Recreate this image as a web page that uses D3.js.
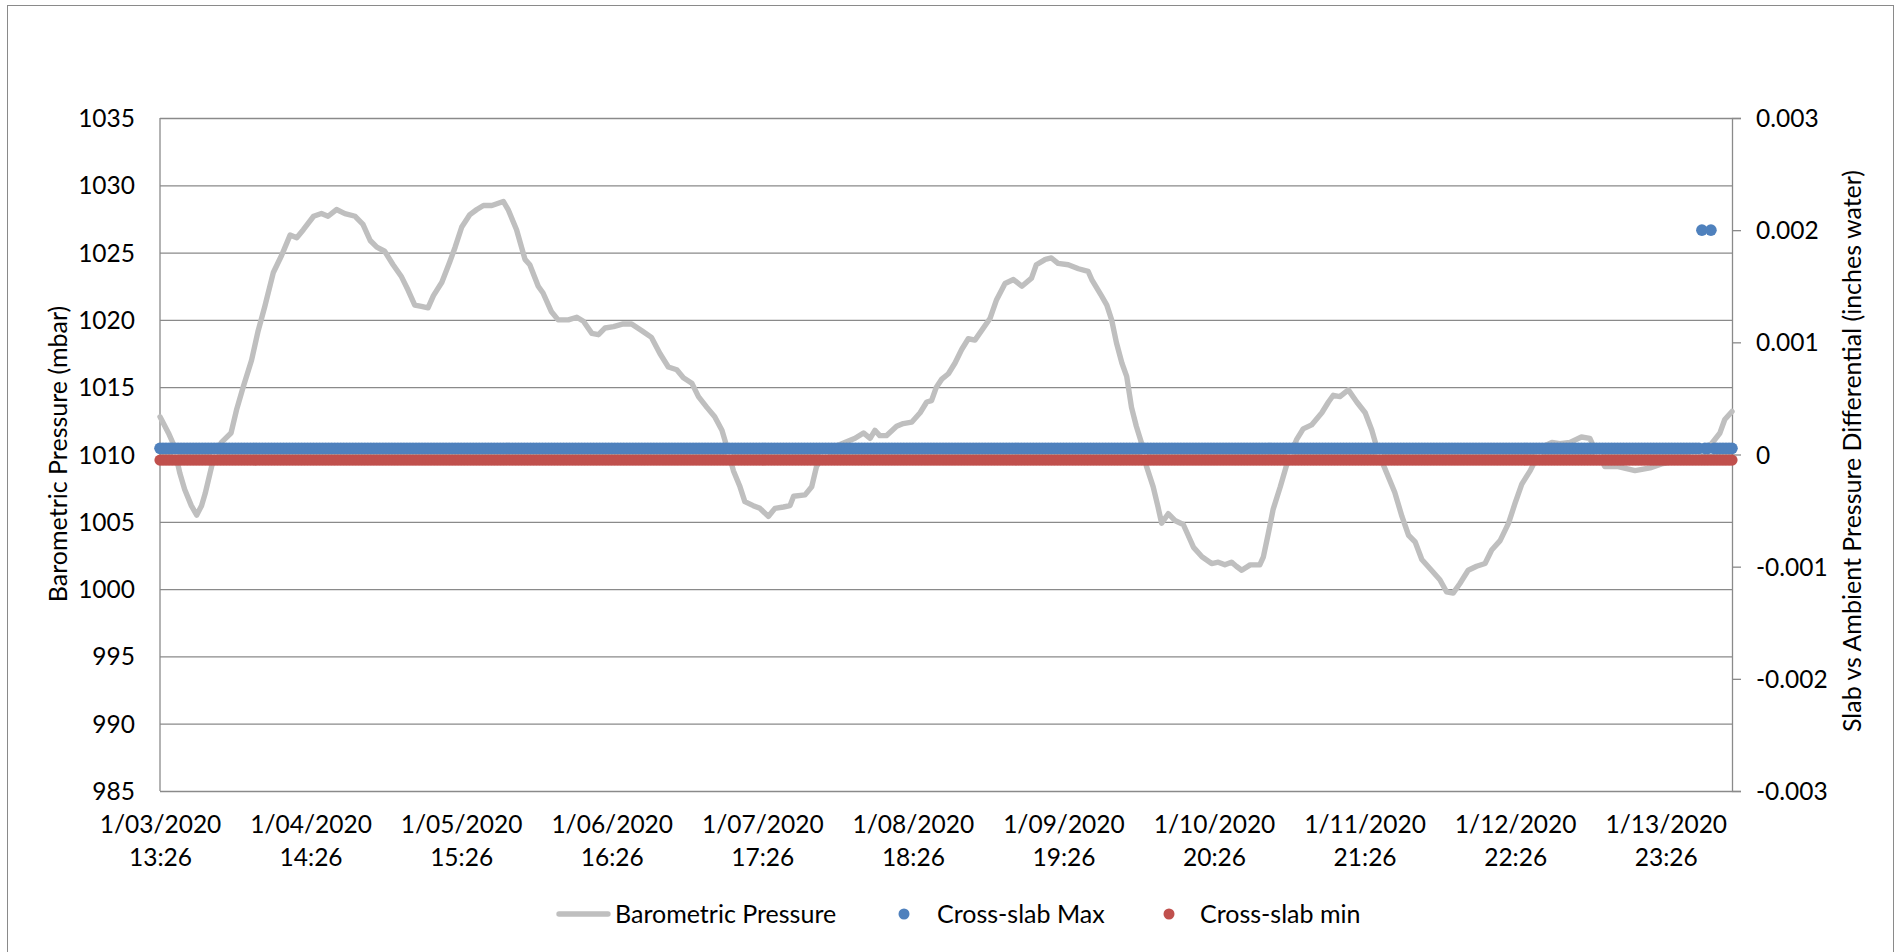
<!DOCTYPE html>
<html>
<head>
<meta charset="utf-8">
<script src="https://cdn.jsdelivr.net/npm/d3@7"></script>
<style>
  body { margin: 0; background: #fff; }
  svg { display: block; }
  text { font-family: Lato, "Open Sans", sans-serif; fill: #000; }
</style>
</head>
<body>
<svg id="chart" width="1900" height="952"></svg>
<script>
// ---------- DATA ----------
const startTime = new Date(2020, 0, 3, 13, 26);   // 1/03/2020 13:26
const endHour = 261;                              // last sample, hours after start
const tickHours = [0, 25, 50, 75, 100, 125, 150, 175, 200, 225, 250];

const leftTicks = [985, 990, 995, 1000, 1005, 1010, 1015, 1020, 1025, 1030, 1035];
const rightTicks = [-0.003, -0.002, -0.001, 0, 0.001, 0.002, 0.003];

// Barometric pressure (mbar), hours after start
const pressureHours = [
  0, 1.4, 2.2, 3.3, 4.1, 5.2, 6.1, 6.9, 7.5, 8.3, 9.1, 10.2, 11.8, 12.7, 13.8, 15.2, 16.3, 17.4, 18.8, 20.2,
  21.6, 22.7, 23.8, 25.5, 26.8, 27.9, 29.3, 30.7, 32.4, 33.7, 34.9, 36.0, 37.3, 38.7, 40.1, 41.2, 42.3, 43.4, 44.5, 45.4,
  46.8, 48.1, 49.0, 50.1, 51.4, 52.6, 53.7, 55.1, 57.0, 57.8, 59.2, 60.6, 61.4, 62.8, 63.6, 65.0, 66.1, 67.8, 69.2, 70.3,
  71.7, 72.8, 73.9, 75.3, 76.9, 78.3, 80.0, 81.6, 83.0, 84.4, 85.8, 86.9, 88.3, 89.4, 90.8, 92.1, 93.3, 94.1, 95.2, 96.3,
  97.1, 98.5, 99.6, 101.0, 102.1, 103.5, 104.6, 105.2, 107.1, 108.2, 109.0, 110.4, 112.1, 113.7, 115.4, 116.8, 117.9, 118.7, 119.5, 120.6,
  122.3, 123.4, 124.8, 126.2, 127.3, 128.1, 128.9, 129.8, 130.9, 132.0, 133.1, 134.2, 135.3, 136.4, 137.8, 138.9, 140.3, 141.7, 143.1, 144.7,
  145.5, 147.0, 148.0, 149.1, 150.8, 152.5, 154.1, 154.7, 156.3, 157.2, 158.0, 158.8, 159.7, 160.5, 161.3, 162.1, 163.0, 163.8, 164.9, 165.7,
  166.3, 167.4, 168.5, 169.9, 170.7, 171.6, 173.0, 174.6, 175.7, 176.8, 177.9, 178.7, 179.6, 181.0, 182.6, 183.2, 184.0, 184.8, 186.0, 187.3,
  188.7, 189.8, 191.2, 192.9, 194.0, 194.8, 195.9, 197.3, 198.7, 200.1, 201.2, 202.3, 203.7, 205.0, 206.2, 207.3, 208.4, 209.5, 211.1, 212.5,
  213.6, 214.7, 215.8, 217.2, 218.6, 220.0, 221.1, 222.5, 223.9, 225.0, 226.1, 227.5, 228.6, 229.7, 231.1, 232.4, 234.1, 236.0, 237.4, 238.0,
  239.9, 242.1, 244.9, 247.4, 249.3, 251.5, 254.3, 257.6, 259.0, 259.8, 261.0
];
const pressureValues = [
  1012.8, 1011.6, 1010.8, 1008.6, 1007.4, 1006.2, 1005.5, 1006.2, 1007.1, 1008.6, 1010.1, 1010.9, 1011.6, 1013.3, 1015.0, 1017.0, 1019.2, 1021.0, 1023.5, 1024.8,
  1026.3, 1026.1, 1026.7, 1027.7, 1027.9, 1027.7, 1028.2, 1027.9, 1027.7, 1027.1, 1025.9, 1025.4, 1025.1, 1024.1, 1023.2, 1022.2, 1021.1, 1021.0, 1020.9, 1021.8,
  1022.8, 1024.3, 1025.4, 1026.9, 1027.8, 1028.2, 1028.5, 1028.5, 1028.8, 1028.2, 1026.7, 1024.5, 1024.1, 1022.5, 1022.0, 1020.6, 1020.0, 1020.0, 1020.2, 1019.9,
  1019.0, 1018.9, 1019.4, 1019.5, 1019.7, 1019.7, 1019.2, 1018.7, 1017.5, 1016.5, 1016.3, 1015.7, 1015.3, 1014.3, 1013.5, 1012.8, 1011.8, 1010.6, 1008.8, 1007.6,
  1006.5, 1006.2, 1006.0, 1005.4, 1006.0, 1006.1, 1006.2, 1006.9, 1007.0, 1007.6, 1009.1, 1010.1, 1010.6, 1010.9, 1011.2, 1011.6, 1011.2, 1011.8, 1011.4, 1011.4,
  1012.1, 1012.3, 1012.4, 1013.1, 1013.9, 1014.0, 1015.0, 1015.6, 1016.0, 1016.8, 1017.8, 1018.6, 1018.5, 1019.2, 1020.1, 1021.5, 1022.7, 1023.0, 1022.5, 1023.1,
  1024.1, 1024.5, 1024.6, 1024.2, 1024.1, 1023.8, 1023.6, 1023.0, 1021.8, 1021.1, 1020.0, 1018.3, 1016.8, 1015.8, 1013.5, 1012.1, 1010.8, 1009.1, 1007.6, 1006.1,
  1004.9, 1005.6, 1005.1, 1004.8, 1004.0, 1003.1, 1002.4, 1001.9, 1002.0, 1001.8, 1002.0, 1001.7, 1001.4, 1001.8, 1001.8, 1002.4, 1004.1, 1005.9, 1007.6, 1009.6,
  1011.1, 1011.9, 1012.2, 1013.1, 1013.9, 1014.4, 1014.3, 1014.8, 1013.9, 1013.1, 1011.8, 1010.1, 1008.6, 1007.2, 1005.4, 1004.0, 1003.5, 1002.2, 1001.4, 1000.7,
  999.8, 999.7, 1000.4, 1001.4, 1001.7, 1001.9, 1002.9, 1003.6, 1004.9, 1006.4, 1007.8, 1008.8, 1009.8, 1010.6, 1010.9, 1010.8, 1010.9, 1011.3, 1011.2, 1010.6,
  1009.1, 1009.1, 1008.8, 1009.0, 1009.3, 1009.5, 1009.8, 1010.8, 1011.6, 1012.6, 1013.2
];

// Cross-slab differential (inches water), half-hourly samples from start (25 per row)
const slabMaxValues = [
  5.5e-5, 5.5e-5, 5.5e-5, 5.5e-5, 5.5e-5,  5.5e-5, 5.5e-5, 5.5e-5, 5.5e-5, 5.5e-5,  5.5e-5, 5.5e-5, 5.5e-5, 5.5e-5, 5.5e-5,  5.5e-5, 5.5e-5, 5.5e-5, 5.5e-5, 5.5e-5,  5.5e-5, 5.5e-5, 5.5e-5, 5.5e-5, 5.5e-5,
  5.5e-5, 5.5e-5, 5.5e-5, 5.5e-5, 5.5e-5,  5.5e-5, 5.5e-5, 5.5e-5, 5.5e-5, 5.5e-5,  5.5e-5, 5.5e-5, 5.5e-5, 5.5e-5, 5.5e-5,  5.5e-5, 5.5e-5, 5.5e-5, 5.5e-5, 5.5e-5,  5.5e-5, 5.5e-5, 5.5e-5, 5.5e-5, 5.5e-5,
  5.5e-5, 5.5e-5, 5.5e-5, 5.5e-5, 5.5e-5,  5.5e-5, 5.5e-5, 5.5e-5, 5.5e-5, 5.5e-5,  5.5e-5, 5.5e-5, 5.5e-5, 5.5e-5, 5.5e-5,  5.5e-5, 5.5e-5, 5.5e-5, 5.5e-5, 5.5e-5,  5.5e-5, 5.5e-5, 5.5e-5, 5.5e-5, 5.5e-5,
  5.5e-5, 5.5e-5, 5.5e-5, 5.5e-5, 5.5e-5,  5.5e-5, 5.5e-5, 5.5e-5, 5.5e-5, 5.5e-5,  5.5e-5, 5.5e-5, 5.5e-5, 5.5e-5, 5.5e-5,  5.5e-5, 5.5e-5, 5.5e-5, 5.5e-5, 5.5e-5,  5.5e-5, 5.5e-5, 5.5e-5, 5.5e-5, 5.5e-5,
  5.5e-5, 5.5e-5, 5.5e-5, 5.5e-5, 5.5e-5,  5.5e-5, 5.5e-5, 5.5e-5, 5.5e-5, 5.5e-5,  5.5e-5, 5.5e-5, 5.5e-5, 5.5e-5, 5.5e-5,  5.5e-5, 5.5e-5, 5.5e-5, 5.5e-5, 5.5e-5,  5.5e-5, 5.5e-5, 5.5e-5, 5.5e-5, 5.5e-5,
  5.5e-5, 5.5e-5, 5.5e-5, 5.5e-5, 5.5e-5,  5.5e-5, 5.5e-5, 5.5e-5, 5.5e-5, 5.5e-5,  5.5e-5, 5.5e-5, 5.5e-5, 5.5e-5, 5.5e-5,  5.5e-5, 5.5e-5, 5.5e-5, 5.5e-5, 5.5e-5,  5.5e-5, 5.5e-5, 5.5e-5, 5.5e-5, 5.5e-5,
  5.5e-5, 5.5e-5, 5.5e-5, 5.5e-5, 5.5e-5,  5.5e-5, 5.5e-5, 5.5e-5, 5.5e-5, 5.5e-5,  5.5e-5, 5.5e-5, 5.5e-5, 5.5e-5, 5.5e-5,  5.5e-5, 5.5e-5, 5.5e-5, 5.5e-5, 5.5e-5,  5.5e-5, 5.5e-5, 5.5e-5, 5.5e-5, 5.5e-5,
  5.5e-5, 5.5e-5, 5.5e-5, 5.5e-5, 5.5e-5,  5.5e-5, 5.5e-5, 5.5e-5, 5.5e-5, 5.5e-5,  5.5e-5, 5.5e-5, 5.5e-5, 5.5e-5, 5.5e-5,  5.5e-5, 5.5e-5, 5.5e-5, 5.5e-5, 5.5e-5,  5.5e-5, 5.5e-5, 5.5e-5, 5.5e-5, 5.5e-5,
  5.5e-5, 5.5e-5, 5.5e-5, 5.5e-5, 5.5e-5,  5.5e-5, 5.5e-5, 5.5e-5, 5.5e-5, 5.5e-5,  5.5e-5, 5.5e-5, 5.5e-5, 5.5e-5, 5.5e-5,  5.5e-5, 5.5e-5, 5.5e-5, 5.5e-5, 5.5e-5,  5.5e-5, 5.5e-5, 5.5e-5, 5.5e-5, 5.5e-5,
  5.5e-5, 5.5e-5, 5.5e-5, 5.5e-5, 5.5e-5,  5.5e-5, 5.5e-5, 5.5e-5, 5.5e-5, 5.5e-5,  5.5e-5, 5.5e-5, 5.5e-5, 5.5e-5, 5.5e-5,  5.5e-5, 5.5e-5, 5.5e-5, 5.5e-5, 5.5e-5,  5.5e-5, 5.5e-5, 5.5e-5, 5.5e-5, 5.5e-5,
  5.5e-5, 5.5e-5, 5.5e-5, 5.5e-5, 5.5e-5,  5.5e-5, 5.5e-5, 5.5e-5, 5.5e-5, 5.5e-5,  5.5e-5, 5.5e-5, 5.5e-5, 5.5e-5, 5.5e-5,  5.5e-5, 5.5e-5, 5.5e-5, 5.5e-5, 5.5e-5,  5.5e-5, 5.5e-5, 5.5e-5, 5.5e-5, 5.5e-5,
  5.5e-5, 5.5e-5, 5.5e-5, 5.5e-5, 5.5e-5,  5.5e-5, 5.5e-5, 5.5e-5, 5.5e-5, 5.5e-5,  5.5e-5, 5.5e-5, 5.5e-5, 5.5e-5, 5.5e-5,  5.5e-5, 5.5e-5, 5.5e-5, 5.5e-5, 5.5e-5,  5.5e-5, 5.5e-5, 5.5e-5, 5.5e-5, 5.5e-5,
  5.5e-5, 5.5e-5, 5.5e-5, 5.5e-5, 5.5e-5,  5.5e-5, 5.5e-5, 5.5e-5, 5.5e-5, 5.5e-5,  5.5e-5, 5.5e-5, 5.5e-5, 5.5e-5, 5.5e-5,  5.5e-5, 5.5e-5, 5.5e-5, 5.5e-5, 5.5e-5,  5.5e-5, 5.5e-5, 5.5e-5, 5.5e-5, 5.5e-5,
  5.5e-5, 5.5e-5, 5.5e-5, 5.5e-5, 5.5e-5,  5.5e-5, 5.5e-5, 5.5e-5, 5.5e-5, 5.5e-5,  5.5e-5, 5.5e-5, 5.5e-5, 5.5e-5, 5.5e-5,  5.5e-5, 5.5e-5, 5.5e-5, 5.5e-5, 5.5e-5,  5.5e-5, 5.5e-5, 5.5e-5, 5.5e-5, 5.5e-5,
  5.5e-5, 5.5e-5, 5.5e-5, 5.5e-5, 5.5e-5,  5.5e-5, 5.5e-5, 5.5e-5, 5.5e-5, 5.5e-5,  5.5e-5, 5.5e-5, 5.5e-5, 5.5e-5, 5.5e-5,  5.5e-5, 5.5e-5, 5.5e-5, 5.5e-5, 5.5e-5,  5.5e-5, 5.5e-5, 5.5e-5, 5.5e-5, 5.5e-5,
  5.5e-5, 5.5e-5, 5.5e-5, 5.5e-5, 5.5e-5,  5.5e-5, 5.5e-5, 5.5e-5, 5.5e-5, 5.5e-5,  5.5e-5, 5.5e-5, 5.5e-5, 5.5e-5, 5.5e-5,  5.5e-5, 5.5e-5, 5.5e-5, 5.5e-5, 5.5e-5,  5.5e-5, 5.5e-5, 5.5e-5, 5.5e-5, 5.5e-5,
  5.5e-5, 5.5e-5, 5.5e-5, 5.5e-5, 5.5e-5,  5.5e-5, 5.5e-5, 5.5e-5, 5.5e-5, 5.5e-5,  5.5e-5, 5.5e-5, 5.5e-5, 5.5e-5, 5.5e-5,  5.5e-5, 5.5e-5, 5.5e-5, 5.5e-5, 5.5e-5,  5.5e-5, 5.5e-5, 5.5e-5, 5.5e-5, 5.5e-5,
  5.5e-5, 5.5e-5, 5.5e-5, 5.5e-5, 5.5e-5,  5.5e-5, 5.5e-5, 5.5e-5, 5.5e-5, 5.5e-5,  5.5e-5, 5.5e-5, 5.5e-5, 5.5e-5, 5.5e-5,  5.5e-5, 5.5e-5, 5.5e-5, 5.5e-5, 5.5e-5,  5.5e-5, 5.5e-5, 5.5e-5, 5.5e-5, 5.5e-5,
  5.5e-5, 5.5e-5, 5.5e-5, 5.5e-5, 5.5e-5,  5.5e-5, 5.5e-5, 5.5e-5, 5.5e-5, 5.5e-5,  5.5e-5, 5.5e-5, 5.5e-5, 5.5e-5, 5.5e-5,  5.5e-5, 5.5e-5, 5.5e-5, 5.5e-5, 5.5e-5,  5.5e-5, 5.5e-5, 5.5e-5, 5.5e-5, 5.5e-5,
  5.5e-5, 5.5e-5, 5.5e-5, 5.5e-5, 5.5e-5,  5.5e-5, 5.5e-5, 5.5e-5, 5.5e-5, 5.5e-5,  5.5e-5, 5.5e-5, 5.5e-5, 5.5e-5, 5.5e-5,  5.5e-5, 5.5e-5, 5.5e-5, 5.5e-5, 5.5e-5,  5.5e-5, 5.5e-5, 5.5e-5, 5.5e-5, 5.5e-5,
  5.5e-5, 5.5e-5, 5.5e-5, 5.5e-5, 5.5e-5,  5.5e-5, 5.5e-5, 5.5e-5, 5.5e-5, 5.5e-5,  5.5e-5, 5.5e-5, 0.002, 5.5e-5, 5.5e-5,  0.002, 5.5e-5, 5.5e-5, 5.5e-5, 5.5e-5,  5.5e-5, 5.5e-5, 5.5e-5
];
const slabMinValues = [
  -5e-5, -5e-5, -5e-5, -5e-5, -5e-5,  -5e-5, -5e-5, -5e-5, -5e-5, -5e-5,  -5e-5, -5e-5, -5e-5, -5e-5, -5e-5,  -5e-5, -5e-5, -5e-5, -5e-5, -5e-5,  -5e-5, -5e-5, -5e-5, -5e-5, -5e-5,
  -5e-5, -5e-5, -5e-5, -5e-5, -5e-5,  -5e-5, -5e-5, -5e-5, -5e-5, -5e-5,  -5e-5, -5e-5, -5e-5, -5e-5, -5e-5,  -5e-5, -5e-5, -5e-5, -5e-5, -5e-5,  -5e-5, -5e-5, -5e-5, -5e-5, -5e-5,
  -5e-5, -5e-5, -5e-5, -5e-5, -5e-5,  -5e-5, -5e-5, -5e-5, -5e-5, -5e-5,  -5e-5, -5e-5, -5e-5, -5e-5, -5e-5,  -5e-5, -5e-5, -5e-5, -5e-5, -5e-5,  -5e-5, -5e-5, -5e-5, -5e-5, -5e-5,
  -5e-5, -5e-5, -5e-5, -5e-5, -5e-5,  -5e-5, -5e-5, -5e-5, -5e-5, -5e-5,  -5e-5, -5e-5, -5e-5, -5e-5, -5e-5,  -5e-5, -5e-5, -5e-5, -5e-5, -5e-5,  -5e-5, -5e-5, -5e-5, -5e-5, -5e-5,
  -5e-5, -5e-5, -5e-5, -5e-5, -5e-5,  -5e-5, -5e-5, -5e-5, -5e-5, -5e-5,  -5e-5, -5e-5, -5e-5, -5e-5, -5e-5,  -5e-5, -5e-5, -5e-5, -5e-5, -5e-5,  -5e-5, -5e-5, -5e-5, -5e-5, -5e-5,
  -5e-5, -5e-5, -5e-5, -5e-5, -5e-5,  -5e-5, -5e-5, -5e-5, -5e-5, -5e-5,  -5e-5, -5e-5, -5e-5, -5e-5, -5e-5,  -5e-5, -5e-5, -5e-5, -5e-5, -5e-5,  -5e-5, -5e-5, -5e-5, -5e-5, -5e-5,
  -5e-5, -5e-5, -5e-5, -5e-5, -5e-5,  -5e-5, -5e-5, -5e-5, -5e-5, -5e-5,  -5e-5, -5e-5, -5e-5, -5e-5, -5e-5,  -5e-5, -5e-5, -5e-5, -5e-5, -5e-5,  -5e-5, -5e-5, -5e-5, -5e-5, -5e-5,
  -5e-5, -5e-5, -5e-5, -5e-5, -5e-5,  -5e-5, -5e-5, -5e-5, -5e-5, -5e-5,  -5e-5, -5e-5, -5e-5, -5e-5, -5e-5,  -5e-5, -5e-5, -5e-5, -5e-5, -5e-5,  -5e-5, -5e-5, -5e-5, -5e-5, -5e-5,
  -5e-5, -5e-5, -5e-5, -5e-5, -5e-5,  -5e-5, -5e-5, -5e-5, -5e-5, -5e-5,  -5e-5, -5e-5, -5e-5, -5e-5, -5e-5,  -5e-5, -5e-5, -5e-5, -5e-5, -5e-5,  -5e-5, -5e-5, -5e-5, -5e-5, -5e-5,
  -5e-5, -5e-5, -5e-5, -5e-5, -5e-5,  -5e-5, -5e-5, -5e-5, -5e-5, -5e-5,  -5e-5, -5e-5, -5e-5, -5e-5, -5e-5,  -5e-5, -5e-5, -5e-5, -5e-5, -5e-5,  -5e-5, -5e-5, -5e-5, -5e-5, -5e-5,
  -5e-5, -5e-5, -5e-5, -5e-5, -5e-5,  -5e-5, -5e-5, -5e-5, -5e-5, -5e-5,  -5e-5, -5e-5, -5e-5, -5e-5, -5e-5,  -5e-5, -5e-5, -5e-5, -5e-5, -5e-5,  -5e-5, -5e-5, -5e-5, -5e-5, -5e-5,
  -5e-5, -5e-5, -5e-5, -5e-5, -5e-5,  -5e-5, -5e-5, -5e-5, -5e-5, -5e-5,  -5e-5, -5e-5, -5e-5, -5e-5, -5e-5,  -5e-5, -5e-5, -5e-5, -5e-5, -5e-5,  -5e-5, -5e-5, -5e-5, -5e-5, -5e-5,
  -5e-5, -5e-5, -5e-5, -5e-5, -5e-5,  -5e-5, -5e-5, -5e-5, -5e-5, -5e-5,  -5e-5, -5e-5, -5e-5, -5e-5, -5e-5,  -5e-5, -5e-5, -5e-5, -5e-5, -5e-5,  -5e-5, -5e-5, -5e-5, -5e-5, -5e-5,
  -5e-5, -5e-5, -5e-5, -5e-5, -5e-5,  -5e-5, -5e-5, -5e-5, -5e-5, -5e-5,  -5e-5, -5e-5, -5e-5, -5e-5, -5e-5,  -5e-5, -5e-5, -5e-5, -5e-5, -5e-5,  -5e-5, -5e-5, -5e-5, -5e-5, -5e-5,
  -5e-5, -5e-5, -5e-5, -5e-5, -5e-5,  -5e-5, -5e-5, -5e-5, -5e-5, -5e-5,  -5e-5, -5e-5, -5e-5, -5e-5, -5e-5,  -5e-5, -5e-5, -5e-5, -5e-5, -5e-5,  -5e-5, -5e-5, -5e-5, -5e-5, -5e-5,
  -5e-5, -5e-5, -5e-5, -5e-5, -5e-5,  -5e-5, -5e-5, -5e-5, -5e-5, -5e-5,  -5e-5, -5e-5, -5e-5, -5e-5, -5e-5,  -5e-5, -5e-5, -5e-5, -5e-5, -5e-5,  -5e-5, -5e-5, -5e-5, -5e-5, -5e-5,
  -5e-5, -5e-5, -5e-5, -5e-5, -5e-5,  -5e-5, -5e-5, -5e-5, -5e-5, -5e-5,  -5e-5, -5e-5, -5e-5, -5e-5, -5e-5,  -5e-5, -5e-5, -5e-5, -5e-5, -5e-5,  -5e-5, -5e-5, -5e-5, -5e-5, -5e-5,
  -5e-5, -5e-5, -5e-5, -5e-5, -5e-5,  -5e-5, -5e-5, -5e-5, -5e-5, -5e-5,  -5e-5, -5e-5, -5e-5, -5e-5, -5e-5,  -5e-5, -5e-5, -5e-5, -5e-5, -5e-5,  -5e-5, -5e-5, -5e-5, -5e-5, -5e-5,
  -5e-5, -5e-5, -5e-5, -5e-5, -5e-5,  -5e-5, -5e-5, -5e-5, -5e-5, -5e-5,  -5e-5, -5e-5, -5e-5, -5e-5, -5e-5,  -5e-5, -5e-5, -5e-5, -5e-5, -5e-5,  -5e-5, -5e-5, -5e-5, -5e-5, -5e-5,
  -5e-5, -5e-5, -5e-5, -5e-5, -5e-5,  -5e-5, -5e-5, -5e-5, -5e-5, -5e-5,  -5e-5, -5e-5, -5e-5, -5e-5, -5e-5,  -5e-5, -5e-5, -5e-5, -5e-5, -5e-5,  -5e-5, -5e-5, -5e-5, -5e-5, -5e-5,
  -5e-5, -5e-5, -5e-5, -5e-5, -5e-5,  -5e-5, -5e-5, -5e-5, -5e-5, -5e-5,  -5e-5, -5e-5, -5e-5, -5e-5, -5e-5,  -5e-5, -5e-5, -5e-5, -5e-5, -5e-5,  -5e-5, -5e-5, -5e-5
];
const slabStepHours = 0.5;

const seriesNames = ["Barometric Pressure", "Cross-slab Max", "Cross-slab min"];
const leftTitle = "Barometric Pressure (mbar)";
const rightTitle = "Slab vs Ambient Pressure Differential (inches water)";

// ---------- LAYOUT / STYLE ----------
const plot = { left: 160, right: 1732, top: 118, bottom: 791 };
const colors = { pressure: "#BFBFBF", max: "#4F81BD", min: "#C0504D", grid: "#8A8A8A" };
const tickFont = 24.5, titleFont = 25, legendFont = 25;
const HOUR = 3600 * 1000;
const atHour = h => new Date(startTime.getTime() + h * HOUR);

const svg = d3.select("#chart");

// chart border
svg.append("rect").attr("x", 7.5).attr("y", 5.5).attr("width", 1886).attr("height", 980)
  .attr("fill", "none").attr("stroke", "#8A8A8A").attr("stroke-width", 1);

const x = d3.scaleTime().domain([startTime, atHour(endHour)]).range([plot.left, plot.right]);
const yL = d3.scaleLinear().domain([985, 1035]).range([plot.bottom, plot.top]);
const yR = d3.scaleLinear().domain([-0.003, 0.003]).range([plot.bottom, plot.top]);

// gridlines
const grid = svg.append("g").attr("transform", `translate(${plot.left},0)`)
  .call(d3.axisLeft(yL).tickValues(leftTicks).tickSize(-(plot.right - plot.left)).tickFormat(""));
grid.select(".domain").remove();
grid.selectAll("line").attr("stroke", colors.grid).attr("stroke-width", 1.3);

// left axis line
svg.append("line").attr("x1", plot.left).attr("x2", plot.left).attr("y1", plot.top).attr("y2", plot.bottom)
  .attr("stroke", colors.grid).attr("stroke-width", 1.3);

// left axis labels
const gL = svg.append("g").attr("transform", `translate(${plot.left},0)`)
  .call(d3.axisLeft(yL).tickValues(leftTicks).tickSize(0).tickPadding(25).tickFormat(d3.format("d")));
gL.select(".domain").remove();
gL.selectAll("text").attr("font-size", tickFont).attr("font-family", "Lato").attr("dy", "0.35em");

// right axis
const gR = svg.append("g").attr("transform", `translate(${plot.right},0)`)
  .call(d3.axisRight(yR).tickValues(rightTicks).tickSize(9).tickPadding(15)
    .tickFormat(d => d === 0 ? "0" : d.toFixed(3)));
gR.select(".domain").attr("stroke", colors.grid).attr("stroke-width", 1.3);
gR.selectAll("line").attr("stroke", colors.grid).attr("stroke-width", 1.3);
gR.selectAll("text").attr("font-size", tickFont).attr("font-family", "Lato").attr("dy", "0.35em");

// bottom axis
const tickDates = tickHours.map(atHour);
const fDate = d3.timeFormat("%-m/%d/%Y"), fTime = d3.timeFormat("%H:%M");
const gB = svg.append("g").attr("transform", `translate(0,${plot.bottom})`)
  .call(d3.axisBottom(x).tickValues(tickDates).tickSize(0).tickFormat(""));
gB.select(".domain").remove();
gB.selectAll(".tick").each(function(d) {
  const t = d3.select(this).select("text").attr("y", null).attr("dy", null)
    .attr("font-size", tickFont).attr("font-family", "Lato");
  t.append("tspan").attr("x", 0).attr("y", 42).text(fDate(d));
  t.append("tspan").attr("x", 0).attr("y", 75).text(fTime(d));
});

// pressure line
const pressureData = pressureHours.map((h, i) => ({ t: atHour(h), v: pressureValues[i] }));
svg.append("path").datum(pressureData)
  .attr("fill", "none").attr("stroke", colors.pressure).attr("stroke-width", 5.4)
  .attr("stroke-linejoin", "round").attr("stroke-linecap", "round")
  .attr("d", d3.line().x(d => x(d.t)).y(d => yL(d.v)));

// cross-slab markers
const maxData = slabMaxValues.map((v, i) => ({ t: atHour(i * slabStepHours), v }));
const minData = slabMinValues.map((v, i) => ({ t: atHour(i * slabStepHours), v }));
svg.append("g").selectAll("circle").data(maxData).join("circle")
  .attr("cx", d => x(d.t)).attr("cy", d => yR(d.v)).attr("r", 5.8).attr("fill", colors.max);
svg.append("g").selectAll("circle").data(minData).join("circle")
  .attr("cx", d => x(d.t)).attr("cy", d => yR(d.v)).attr("r", 5.6).attr("fill", colors.min);

// axis titles
svg.append("text").attr("transform", "translate(57,454) rotate(-90)")
  .attr("text-anchor", "middle").attr("dominant-baseline", "central")
  .attr("font-size", titleFont).text(leftTitle);
svg.append("text").attr("transform", "translate(1851,451) rotate(-90)")
  .attr("text-anchor", "middle").attr("dominant-baseline", "central")
  .attr("font-size", titleFont).text(rightTitle);

// legend
const legY = 914;
const leg = svg.append("g");
leg.append("line").attr("x1", 559).attr("x2", 608).attr("y1", legY).attr("y2", legY)
  .attr("stroke", colors.pressure).attr("stroke-width", 5.4).attr("stroke-linecap", "round");
leg.append("text").attr("x", 615).attr("y", legY).attr("dy", "0.35em").attr("font-size", legendFont).text(seriesNames[0]);
leg.append("circle").attr("cx", 904).attr("cy", legY).attr("r", 5.5).attr("fill", colors.max);
leg.append("text").attr("x", 937).attr("y", legY).attr("dy", "0.35em").attr("font-size", legendFont).text(seriesNames[1]);
leg.append("circle").attr("cx", 1169).attr("cy", legY).attr("r", 5.5).attr("fill", colors.min);
leg.append("text").attr("x", 1200).attr("y", legY).attr("dy", "0.35em").attr("font-size", legendFont).text(seriesNames[2]);
</script>
</body>
</html>
